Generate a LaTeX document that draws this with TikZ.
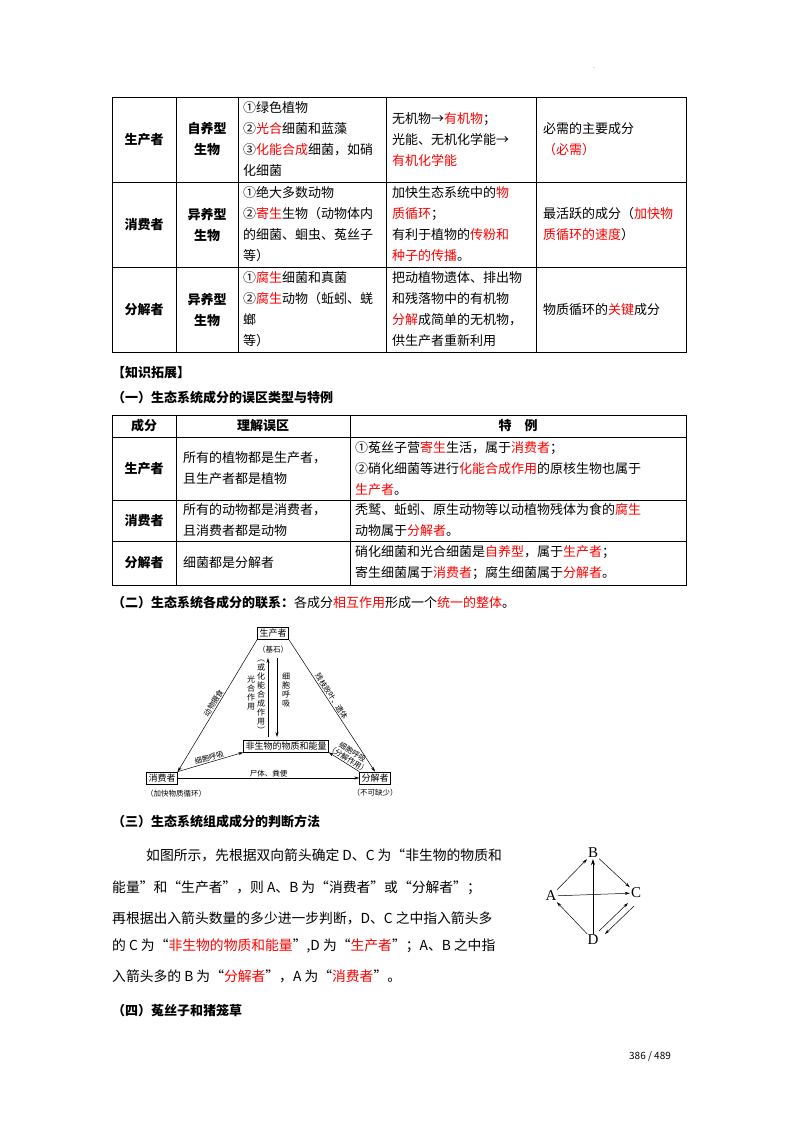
\documentclass[tikz,border=0pt]{standalone}
\usepackage{fontspec}
\setmainfont{Noto Sans CJK SC}
\newfontfamily\lat{Liberation Serif}
\usetikzlibrary{arrows.meta}
\newcommand{\fs}{\fontsize{13}{21}\selectfont}
\newcommand{\R}[1]{\textcolor{red}{#1}}
\begin{document}
\begin{tikzpicture}[x=1pt,y=-1pt,
  cell/.style={anchor=west,align=left,font=\fs,inner sep=0},
  para/.style={anchor=west,inner sep=0,font=\fontsize{13.8}{16}\selectfont},
  head/.style={align=center,font=\fs\bfseries,inner sep=0},
  box/.style={draw,font=\fontsize{9}{10}\selectfont,inner sep=2pt},
  lab/.style={font=\fontsize{7.5}{8.5}\selectfont,inner sep=1pt},
  vt/.style={font=\fontsize{8}{9}\selectfont,align=center,inner sep=0},
  arr/.style={-{Stealth[length=5pt,width=3pt]},line width=0.5pt},
  darr/.style={-{Stealth[length=6pt,width=4pt]},line width=0.6pt}]
\useasboundingbox (0,0) rectangle (800,1132);
\fill[white] (0,0) rectangle (800,1132);
\node[font=\tiny] (dot) at (594,68) {.};
% table 1
\draw[line width=0.8pt] (112,97) rectangle (686,352);
\foreach \y in {182,267} \draw (112,\y) -- (686,\y);
\foreach \x in {176,238,386,536} \draw (\x,97) -- (\x,352);
\node[head] (a1) at (144,139.5) {生产者};
\node[head] (a2) at (144,224.5) {消费者};
\node[head] (a3) at (144,309.5) {分解者};
\node[head] (b1) at (207,139.5) {自养型\\生物};
\node[head] (b2) at (207,224.5) {异养型\\生物};
\node[head] (b3) at (207,309.5) {异养型\\生物};
\node[cell] (c1) at (243,139.5) {①绿色植物\\②\R{光合}细菌和蓝藻\\③\R{化能合成}细菌，如硝\\化细菌};
\node[cell] (c2) at (243,224.5) {①绝大多数动物\\②\R{寄生}生物（动物体内\\的细菌、蛔虫、菟丝子\\等）};
\node[cell] (c3) at (243,309.5) {①\R{腐生}细菌和真菌\\②\R{腐生}动物（蚯蚓、蜣\\螂\\等）};
\node[cell] (d1) at (392,139.5) {无机物→\R{有机物}；\\光能、无机化学能→\\\R{有机化学能}};
\node[cell] (d2) at (392,224.5) {加快生态系统中的\R{物}\\\R{质循环}；\\有利于植物的\R{传粉和}\\\R{种子的传播}。};
\node[cell] (d3) at (392,309.5) {把动植物遗体、排出物\\和残落物中的有机物\\\R{分解}成简单的无机物，\\供生产者重新利用};
\node[cell] (e1) at (543,139.5) {必需的主要成分\\\R{（必需）}};
\node[cell] (e2) at (543,224.5) {最活跃的成分（\R{加快物}\\\R{质循环的速度}）};
\node[cell] (e3) at (543,309.5) {物质循环的\R{关键}成分};
% headings
\node[cell,font=\fs\bfseries] (h1) at (112,373) {【知识拓展】};
\node[cell,font=\fs\bfseries] (h2) at (112,398) {（一）生态系统成分的误区类型与特例};
% table 2
\draw[line width=0.8pt] (112,415) rectangle (686,585);
\foreach \y in {437,500,541} \draw (112,\y) -- (686,\y);
\foreach \x in {176,350} \draw (\x,415) -- (\x,585);
\node[head] (t0) at (144,426) {成分};
\node[head] (t1) at (263,426) {理解误区};
\node[head] (t2) at (518,426) {特　例};
\node[head] (r1) at (144,468.5) {生产者};
\node[head] (r2) at (144,520.5) {消费者};
\node[head] (r3) at (144,563) {分解者};
\node[cell] (u1) at (183,468.5) {所有的植物都是生产者，\\且生产者都是植物};
\node[cell] (u2) at (183,520.5) {所有的动物都是消费者，\\且消费者都是动物};
\node[cell] (u3) at (183,563) {细菌都是分解者};
\node[cell] (v1) at (355,468.5) {①菟丝子营\R{寄生}生活，属于\R{消费者}；\\②硝化细菌等进行\R{化能合成作用}的原核生物也属于\\\R{生产者}。};
\node[cell] (v2) at (355,520.5) {秃鹫、蚯蚓、原生动物等以动植物残体为食的\R{腐生}\\动物属于\R{分解者}。};
\node[cell] (v3) at (355,563) {硝化细菌和光合细菌是\R{自养型}，属于\R{生产者}；\\寄生细菌属于\R{消费者}；腐生细菌属于\R{分解者}。};
\node[cell] (h3) at (112,603) {\textbf{（二）生态系统各成分的联系：}各成分\R{相互作用}形成一个\R{统一的整体}。};
% triangle
\node[box] (P) at (273,633) {生产者};
\node[lab] (Pl) at (273,650) {（基石）};
\node[box] (N) at (286,746) {非生物的物质和能量};
\node[box] (C) at (162,778) {消费者};
\node[box] (D) at (375,778) {分解者};
\node[lab] (Cl) at (176,794) {（加快物质循环）};
\node[lab] (Dl) at (375,793) {（不可缺少）};
\draw[arr] (P.south west) -- node[lab,sloped,above]{动物摄食} (C.north east);
\draw[arr] (P.south east) -- node[lab,sloped,above,pos=0.45]{残枝败叶、遗体} (D.north);
\coordinate (u0) at (268,737); \coordinate (u1x) at (268,658);
\coordinate (w0) at (277,658); \coordinate (w1) at (277,737);
\draw[arr] (u0) -- (u1x);
\draw[arr] (w0) -- (w1);
\node[vt] (va) at (251,693) {光\\合\\作\\用};
\node[vt] (vb) at (261,697) {︵\\或\\化\\能\\合\\成\\作\\用\\︶};
\node[vt] (vc) at (286,690) {细\\胞\\呼\\吸};
\draw[arr] (C.north east) -- node[lab,sloped,above]{细胞呼吸} (N.south west);
\draw[arr] (D.north west) -- node[lab,sloped,above,align=center,pos=0.45]{细胞呼吸\\（分解作用）} (N.south east);
\draw[arr] (C.east) -- node[lab,above]{尸体、粪便} (D.west);
% section three
\node[cell,font=\fs\bfseries] (h4) at (112,822) {（三）生态系统组成成分的判断方法};
\node[para] (p1) at (146,855) {如图所示，先根据双向箭头确定 D、C 为“非生物的物质和};
\node[para] (p2) at (112,888) {能量”和“生产者”，则 A、B 为“消费者”或“分解者”；};
\node[para] (p3) at (112,918) {再根据出入箭头数量的多少进一步判断，D、C 之中指入箭头多};
\node[para] (p4) at (112,946) {的 C 为“\R{非生物的物质和能量}”,D 为“\R{生产者}”；A、B 之中指};
\node[para] (p5) at (112,976) {入箭头多的 B 为“\R{分解者}”，A 为“\R{消费者}”。};
\node[font=\lat\fontsize{15}{15}\selectfont,inner sep=1pt] (B) at (593,853) {B};
\node[font=\lat\fontsize{15}{15}\selectfont,inner sep=1pt] (A) at (551,896) {A};
\node[font=\lat\fontsize{15}{15}\selectfont,inner sep=1pt] (CC) at (636,893) {C};
\node[font=\lat\fontsize{15}{15}\selectfont,inner sep=1pt] (DD) at (593,940) {D};
\draw[arr] (A) -- (B);
\draw[arr] (B) -- (CC);
\draw[arr] (A) -- (CC);
\draw[darr] (DD) -- (B);
\draw[arr] (DD) -- (A);
\coordinate (dc0) at (599,931); \coordinate (dc1) at (628,903);
\coordinate (cd0) at (634,906); \coordinate (cd1) at (605,934);
\draw[arr] (dc0) -- (dc1);
\draw[arr] (cd0) -- (cd1);
\node[cell,font=\fs\bfseries] (h5) at (112,1011) {（四）菟丝子和猪笼草};
\node[font=\fontsize{10}{12}\selectfont] (pg) at (650,1056) {386 / 489};
\end{tikzpicture}
\end{document}
